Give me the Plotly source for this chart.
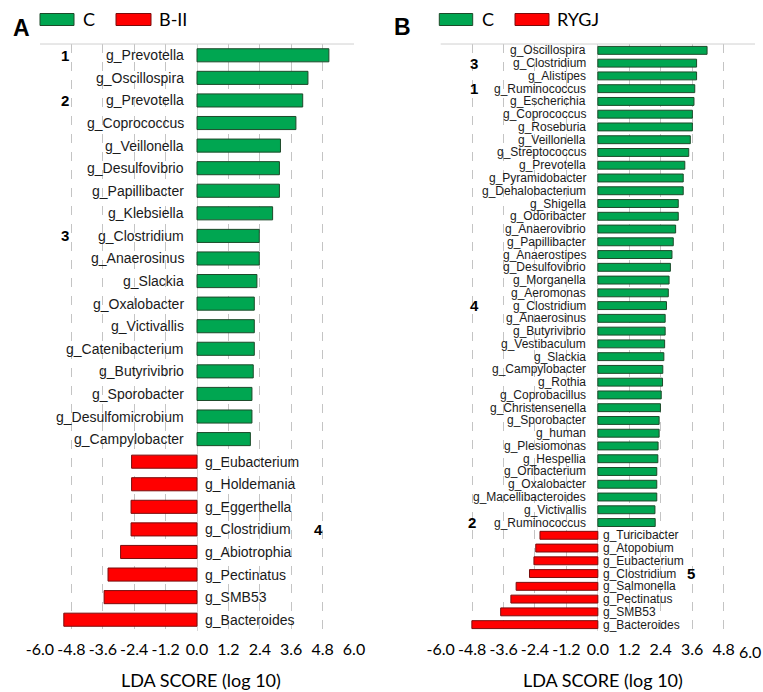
import plotly.graph_objects as go

# ---------------- data ----------------
a_green_names = ["g_Prevotella", "g_Oscillospira", "g_Prevotella", "g_Coprococcus", "g_Veillonella",
                 "g_Desulfovibrio", "g_Papillibacter", "g_Klebsiella", "g_Clostridium", "g_Anaerosinus",
                 "g_Slackia", "g_Oxalobacter", "g_Victivallis", "g_Catenibacterium", "g_Butyrivibrio",
                 "g_Sporobacter", "g_Desulfomicrobium", "g_Campylobacter"]
a_green_vals = [5.04, 4.24, 4.04, 3.78, 3.19, 3.15, 3.15, 2.89, 2.38, 2.38,
                2.29, 2.19, 2.19, 2.19, 2.15, 2.10, 2.10, 2.04]
a_red_names = ["g_Eubacterium", "g_Holdemania", "g_Eggerthella", "g_Clostridium",
               "g_Abiotrophia", "g_Pectinatus", "g_SMB53", "g_Bacteroides"]
a_red_vals = [-2.50, -2.50, -2.52, -2.52, -2.92, -3.40, -3.55, -5.09]

b_green_names = ["g_Oscillospira", "g_Clostridium", "g_Alistipes", "g_Ruminococcus", "g_Escherichia",
                 "g_Coprococcus", "g_Roseburia", "g_Veillonella", "g_Streptococcus", "g_Prevotella",
                 "g_Pyramidobacter", "g_Dehalobacterium", "g_Shigella", "g_Odoribacter", "g_Anaerovibrio",
                 "g_Papillibacter", "g_Anaerostipes", "g_Desulfovibrio", "g_Morganella", "g_Aeromonas",
                 "g_Clostridium", "g_Anaerosinus", "g_Butyrivibrio", "g_Vestibaculum", "g_Slackia",
                 "g_Campylobacter", "g_Rothia", "g_Coprobacillus", "g_Christensenella", "g_Sporobacter",
                 "g_human", "g_Plesiomonas", "g_Hespellia", "g_Oribacterium", "g_Oxalobacter",
                 "g_Macellibacteroides", "g_Victivallis", "g_Ruminococcus"]
b_green_vals = [4.17, 3.77, 3.77, 3.70, 3.67, 3.61, 3.61, 3.53, 3.47, 3.32,
                3.26, 3.26, 3.07, 3.07, 2.97, 2.88, 2.83, 2.77, 2.72, 2.69,
                2.62, 2.57, 2.57, 2.55, 2.52, 2.48, 2.47, 2.42, 2.39, 2.34,
                2.34, 2.30, 2.29, 2.25, 2.25, 2.25, 2.18, 2.19]
b_red_names = ["g_Turicibacter", "g_Atopobium", "g_Eubacterium", "g_Clostridium",
               "g_Salmonella", "g_Pectinatus", "g_SMB53", "g_Bacteroides"]
b_red_vals = [-2.21, -2.37, -2.44, -2.61, -3.12, -3.32, -3.71, -4.81]

tick_vals = [-6.0, -4.8, -3.6, -2.4, -1.2, 0.0, 1.2, 2.4, 3.6, 4.8, 6.0]
tick_text = ["-6.0", "-4.8", "-3.6", "-2.4", "-1.2", "0.0", "1.2", "2.4", "3.6", "4.8", "6.0"]

# numbered markers: (bar index, x position in LDA units, label)
a_marks = [(0, -5.03, "1"), (2, -5.03, "2"), (8, -5.05, "3"), (21, 4.65, "4")]
b_marks = [(1, -4.72, "3"), (3, -4.72, "1"), (20, -4.70, "4"), (37, -4.82, "2"), (41, 3.56, "5")]

GREEN = "#00A651"
GREEN_LINE = "#1d4a2a"
RED = "#FF0000"
RED_LINE = "#7a0c0c"
LABEL_FONT = "Liberation Sans, Arial, sans-serif"
AXIS_FONT = "Lato, Open Sans, sans-serif"

W, H = 763, 692
top_px, bot_px = 44, 631
y_dom = [1 - bot_px / H, 1 - top_px / H]
xa_dom = [40 / W, 354 / W]
xb_dom = [440.7 / W, 755 / W]

fig = go.Figure()
annotations = []
shapes = []


def add_panel(gnames, gvals, rnames, rvals, xref, yref, width, lab_size, gshift, rshift):
    n_g = len(gvals)
    gy = list(range(n_g))
    ry = list(range(n_g, n_g + len(rvals)))
    fig.add_trace(go.Bar(x=gvals, y=gy, orientation="h", width=width,
                         marker=dict(color=GREEN, line=dict(color=GREEN_LINE, width=1)),
                         xaxis=xref, yaxis=yref, showlegend=False, hoverinfo="x"))
    fig.add_trace(go.Bar(x=rvals, y=ry, orientation="h", width=width,
                         marker=dict(color=RED, line=dict(color=RED_LINE, width=1)),
                         xaxis=xref, yaxis=yref, showlegend=False, hoverinfo="x"))
    for name, yy in zip(gnames, gy):
        annotations.append(dict(x=0, y=yy, xref=xref, yref=yref, text=name, showarrow=False,
                                xanchor="right", yanchor="middle", xshift=gshift,
                                font=dict(family=LABEL_FONT, size=lab_size, color="#1a1a1a")))
    for name, yy in zip(rnames, ry):
        annotations.append(dict(x=0, y=yy, xref=xref, yref=yref, text=name, showarrow=False,
                                xanchor="left", yanchor="middle", xshift=rshift,
                                font=dict(family=LABEL_FONT, size=lab_size, color="#1a1a1a")))
    return n_g + len(rvals)


na = add_panel(a_green_names, a_green_vals, a_red_names, a_red_vals, "x", "y", 0.58, 14, -11, 6)
nb = add_panel(b_green_names, b_green_vals, b_red_names, b_red_vals, "x2", "y2", 0.62, 12, -10, 3)

for idx, xx, t in a_marks:
    annotations.append(dict(x=xx, y=idx, xref="x", yref="y", text="<b>%s</b>" % t, showarrow=False,
                            font=dict(family=LABEL_FONT, size=15, color="black")))
for idx, xx, t in b_marks:
    annotations.append(dict(x=xx, y=idx, xref="x2", yref="y2", text="<b>%s</b>" % t, showarrow=False,
                            font=dict(family=LABEL_FONT, size=15, color="black")))

tick_font = dict(family=AXIS_FONT, size=16, color="black")
axis_common = dict(range=[-6, 6], tickvals=tick_vals, showgrid=True,
                   gridcolor="#c4c4c4", griddash="dash", gridwidth=1,
                   zeroline=True, zerolinecolor="#d9d9d9", zerolinewidth=1,
                   ticks="outside", ticklen=4, tickcolor="rgba(0,0,0,0)", tickangle=0,
                   tickfont=tick_font, ticklabeloverflow="allow",
                   showline=False, fixedrange=True, automargin=False)

# panel B: last label drawn at the tick but nudged inside the page edge
b_ticktext = tick_text[:-1] + [""]

fig.update_layout(
    width=W, height=H, margin=dict(l=0, r=0, t=0, b=0, autoexpand=False),
    paper_bgcolor="white", plot_bgcolor="white", barmode="overlay",
    xaxis=dict(domain=xa_dom, anchor="y", ticktext=tick_text, **axis_common),
    yaxis=dict(domain=y_dom, anchor="x", range=[na - 0.5, -0.5], showticklabels=False,
               showgrid=False, zeroline=False, ticks="", automargin=False),
    xaxis2=dict(domain=xb_dom, anchor="y2", ticktext=b_ticktext, **axis_common),
    yaxis2=dict(domain=y_dom, anchor="x2", range=[nb - 0.5, -0.5], showticklabels=False,
                showgrid=False, zeroline=False, ticks="", automargin=False),
)
annotations.append(dict(x=tick_vals[-1], y=1 - 651 / H, xref="x2", yref="paper", text=tick_text[-1],
                        showarrow=False, xanchor="right", yanchor="middle", xshift=8,
                        font=tick_font))

# top frame lines
for dom in (xa_dom, xb_dom):
    shapes.append(dict(type="line", xref="paper", yref="paper", x0=dom[0], x1=dom[1],
                       y0=y_dom[1], y1=y_dom[1], line=dict(color="#d0d0d0", width=1)))

# axis titles
for cx in (201 / W, 603 / W):
    annotations.append(dict(x=cx, y=1 - 680 / H, xref="paper", yref="paper", text="LDA SCORE (log 10)",
                            showarrow=False, xanchor="center", yanchor="middle",
                            font=dict(family=AXIS_FONT, size=18, color="black")))

# panel letters
annotations.append(dict(x=11 / W, y=1 - 13 / H, xref="paper", yref="paper", text="<b>A</b>",
                        showarrow=False, font=dict(family=LABEL_FONT, size=23, color="black")))
annotations.append(dict(x=402 / W, y=1 - 12 / H, xref="paper", yref="paper", text="<b>B</b>",
                        showarrow=False, font=dict(family=LABEL_FONT, size=23, color="black")))

# legends (swatch x0, x1, text x, label)
legend_items = [
    (40, 74, 81, "C", GREEN, GREEN_LINE),
    (116, 151, 157, "B-II", RED, RED_LINE),
    (439.3, 472.7, 480, "C", GREEN, GREEN_LINE),
    (515, 549, 555, "RYGJ", RED, RED_LINE),
]
for x0, x1, tx, lab, col, lcol in legend_items:
    shapes.append(dict(type="rect", xref="paper", yref="paper", x0=x0 / W, x1=x1 / W,
                       y0=1 - 25.5 / H, y1=1 - 13.5 / H, fillcolor=col, line=dict(color=lcol, width=1)))
    annotations.append(dict(x=tx / W, y=1 - 19.5 / H, xref="paper", yref="paper", text=lab,
                            showarrow=False, xanchor="left", yanchor="middle",
                            font=dict(family=AXIS_FONT, size=18, color="black")))

fig.update_layout(annotations=annotations, shapes=shapes)
fig.write_html("out.html", config={"displayModeBar": False},
               post_script="document.body.style.margin='0';document.body.style.overflow='hidden';")
